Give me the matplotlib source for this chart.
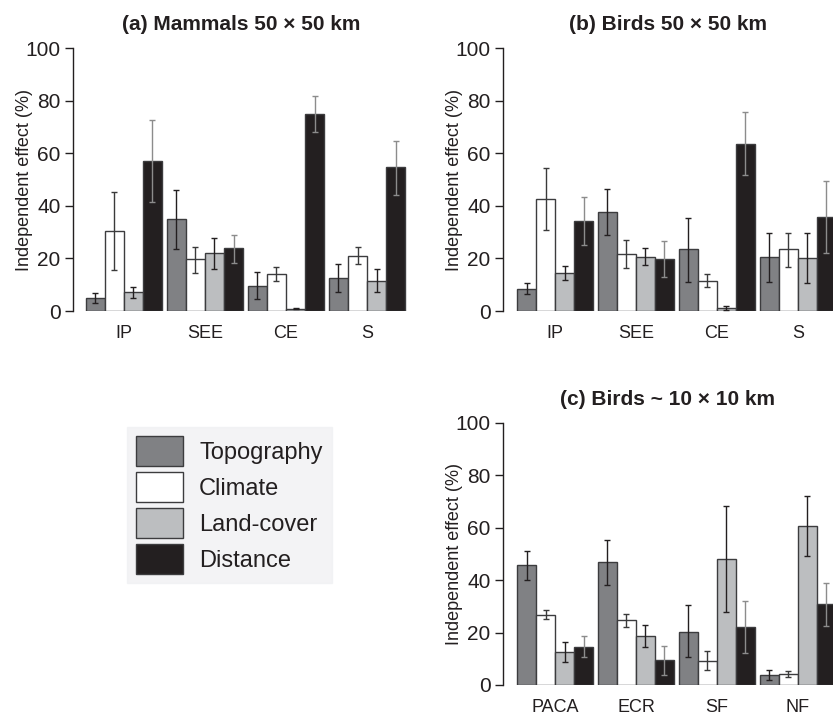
import matplotlib
matplotlib.use('Agg')
import matplotlib.pyplot as plt
import numpy as np

plt.rcParams['font.family'] = ['Liberation Sans', 'DejaVu Sans']

factors = ['Topography', 'Climate', 'Land-cover', 'Distance']
colors = ['#808184', '#ffffff', '#bcbec0', '#231f20']
err_colors = ['#231f20', '#3a3a3a', '#231f20', '#8c8c8c']

# (a) Mammals 50 x 50 km
a_regions = ['IP', 'SEE', 'CE', 'S']
a_values = [[4.8, 34.9, 9.6, 12.4],
            [30.5, 19.7, 14.1, 21.1],
            [7.4, 22.0, 0.9, 11.4],
            [57.2, 23.9, 75.0, 54.7]]
a_low = [[2.9, 23.5, 4.4, 7.2],
         [15.4, 14.3, 11.4, 17.8],
         [5.1, 15.9, 0.6, 7.1],
         [41.6, 18.3, 68.1, 44.2]]
a_high = [[6.7, 45.9, 14.7, 17.9],
          [45.4, 24.5, 16.9, 24.5],
          [9.3, 27.8, 1.2, 16.0],
          [72.7, 28.9, 81.9, 64.8]]

# (b) Birds 50 x 50 km
b_regions = ['IP', 'SEE', 'CE', 'S']
b_values = [[8.5, 37.6, 23.4, 20.4],
            [42.4, 21.6, 11.5, 23.5],
            [14.6, 20.7, 1.3, 20.1],
            [34.4, 19.7, 63.6, 35.8]]
b_low = [[6.3, 28.9, 11.0, 11.0],
         [30.7, 16.2, 9.0, 16.9],
         [11.8, 17.5, 0.5, 10.5],
         [25.1, 12.9, 51.8, 22.1]]
b_high = [[10.5, 46.3, 35.5, 29.8],
          [54.3, 26.9, 14.1, 29.8],
          [17.3, 24.0, 2.0, 29.6],
          [43.5, 26.5, 75.5, 49.4]]

# (c) Birds ~10 x 10 km
c_regions = ['PACA', 'ECR', 'SF', 'NF']
c_values = [[45.7, 46.8, 20.3, 3.7],
            [26.8, 24.7, 9.3, 4.2],
            [12.7, 18.8, 48.0, 60.7],
            [14.6, 9.4, 22.0, 31.0]]
c_low = [[40.0, 38.1, 10.5, 1.8],
         [25.3, 22.2, 5.6, 2.9],
         [8.6, 14.6, 27.7, 49.4],
         [10.5, 3.7, 12.2, 22.5]]
c_high = [[51.3, 55.5, 30.4, 5.8],
          [28.5, 27.2, 13.0, 5.5],
          [16.6, 23.0, 68.2, 72.0],
          [18.7, 15.0, 31.9, 39.0]]

W, H = 833, 716
fig = plt.figure(figsize=(W / 100, H / 100), dpi=100)

def px_axes(left, right, top, bottom):
    return fig.add_axes([left / W, 1 - bottom / H, (right - left) / W, (bottom - top) / H])

stride = 4.26
txt = '#231f20'

def panel(ax, title, regions, values, low, high, xlim, label_x):
    values = np.array(values)
    low = np.array(low)
    high = np.array(high)
    groups = np.arange(len(regions)) * stride
    for j in range(4):
        x = groups + j
        ax.bar(x, values[j], width=1.0, align='edge', color=colors[j],
               edgecolor='#3c3c3e', linewidth=1.0, label=factors[j], zorder=2)
        ax.errorbar(x + 0.5, values[j], yerr=[values[j] - low[j], high[j] - values[j]],
                    fmt='none', ecolor=err_colors[j], elinewidth=1.0, capsize=2.2,
                    capthick=1.0, zorder=3)
    ax.set_xlim(*xlim)
    ax.set_ylim(0, 100)
    ax.set_yticks([0, 20, 40, 60, 80, 100])
    ax.set_xticks(groups + 2)
    ax.set_xticklabels(regions, fontsize=13, color=txt)
    ax.tick_params(axis='x', length=0, pad=10)
    ax.tick_params(axis='y', length=6, width=1.0, labelsize=15, colors=txt, pad=3)
    for s in ['top', 'right', 'bottom']:
        ax.spines[s].set_visible(False)
    ax.spines['left'].set_color(txt)
    ax.spines['left'].set_linewidth(1.0)
    ax.set_ylabel('Independent effect (%)', fontsize=13, color=txt)
    ax.yaxis.set_label_coords(label_x, 0.5)
    ax.set_title(title, fontsize=15, fontweight='bold', color=txt, pad=13)

ax_a = px_axes(73, 410, 48, 311)
panel(ax_a, '(a) Mammals 50 × 50 km', a_regions, a_values, a_low, a_high,
      (-0.68, 17.04), -0.118)

ax_b = px_axes(503, 833, 48, 311)
panel(ax_b, '(b) Birds 50 × 50 km', b_regions, b_values, b_low, b_high,
      (-0.74, 16.63), -0.12)

ax_c = px_axes(503, 833, 423, 685)
panel(ax_c, '(c) Birds ~ 10 × 10 km', c_regions, c_values, c_low, c_high,
      (-0.74, 16.63), -0.12)

handles, labels = ax_a.get_legend_handles_labels()
leg = fig.legend(handles, labels, loc='upper left', bbox_to_anchor=(127 / W, 1 - 427 / H),
                 fontsize=17, frameon=True, fancybox=False, handlelength=2.0,
                 handleheight=1.58, labelspacing=0.25, handletextpad=0.68,
                 borderpad=0.38, borderaxespad=0)
leg.get_frame().set_facecolor('#f0f1f3')
leg.get_frame().set_edgecolor('#f0f1f3')
for t in leg.get_texts():
    t.set_color(txt)

fig.savefig('out.png', dpi=100, facecolor='white')
